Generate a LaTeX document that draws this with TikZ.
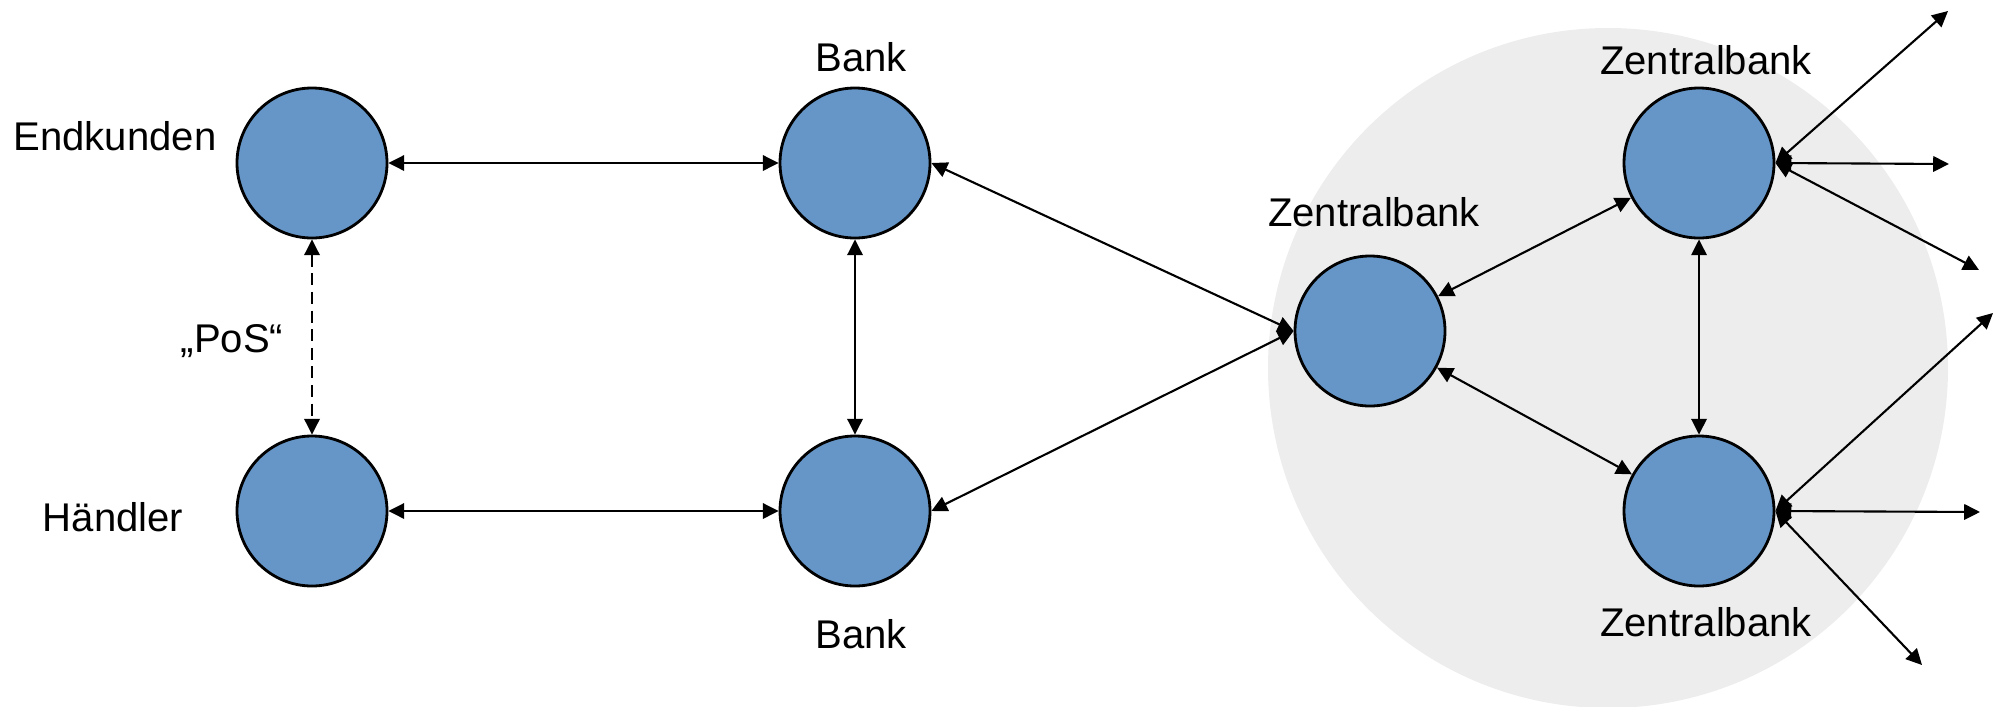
\documentclass[tikz,border=0pt]{standalone}
\usepackage{fontspec}
\setmainfont{Liberation Sans}
\usetikzlibrary{arrows.meta}
\definecolor{knotenblau}{RGB}{102,150,200}
\definecolor{hintergrau}{RGB}{237,237,237}
\tikzset{
  knoten/.style={circle, draw=black, line width=0.8pt, fill=knotenblau, minimum size=1.5cm, inner sep=0pt},
  beschriftung/.style={font=\fontsize{11.4}{13}\selectfont},
}
\begin{document}
\begin{tikzpicture}[>={Triangle[length=4.5pt,width=4.4pt]}, line width=0.6pt]
	\useasboundingbox (0,0) rectangle (19.95,7.06);
	% Hintergrund
	\fill[hintergrau] (16.08,3.38) circle (3.40);

	% Knoten
	\node[knoten] (end) at (3.12,5.43) {};
	\node[knoten] (hae) at (3.12,1.95) {};
	\node[knoten] (banka) at (8.55,5.43) {};
	\node[knoten] (bankb) at (8.55,1.95) {};
	\node[knoten] (zb) at (13.70,3.75) {};
	\node[knoten] (zba) at (16.99,5.43) {};
	\node[knoten] (zbb) at (16.99,1.95) {};

	% Beschriftungen
	\node[beschriftung] (lend) at (1.15,5.70) {Endkunden};
	\node[beschriftung] (lhae) at (1.13,1.89) {Händler};
	\node[beschriftung] (lpos) at (2.32,3.65) {„PoS“};
	\node[beschriftung] (lbanka) at (8.61,6.49) {Bank};
	\node[beschriftung] (lbankb) at (8.61,0.72) {Bank};
	\node[beschriftung] (lzb) at (13.74,4.94) {Zentralbank};
	\node[beschriftung] (lzba) at (17.06,6.46) {Zentralbank};
	\node[beschriftung] (lzbb) at (17.06,0.84) {Zentralbank};

	% Verbindungen
	\draw[<->] (end) -- (banka);
	\draw[<->] (hae) -- (bankb);
	\draw[<->, dash pattern=on 3.4pt off 1.9pt] (end) -- (hae);
	\draw[<->] (banka) -- (bankb);
	\draw[<->] (banka.east) -- (zb.west);
	\draw[<->] (bankb.east) -- (zb.west);
	\draw[<->] (zb) -- (zba);
	\draw[<->] (zb) -- (zbb);
	\draw[<->] (zba) -- (zbb);

	% Ausgehende Verbindungen
	\coordinate (o1) at (19.48,6.95);
	\coordinate (o2) at (19.49,5.42);
	\coordinate (o3) at (19.79,4.36);
	\coordinate (o4) at (19.93,3.93);
	\coordinate (o5) at (19.80,1.94);
	\coordinate (o6) at (19.22,0.41);
	\foreach \o in {o1,o2,o3}
		\draw[<->] (zba.east) -- (\o);
	\foreach \o in {o4,o5,o6}
		\draw[<->] (zbb.east) -- (\o);
\end{tikzpicture}
\end{document}
